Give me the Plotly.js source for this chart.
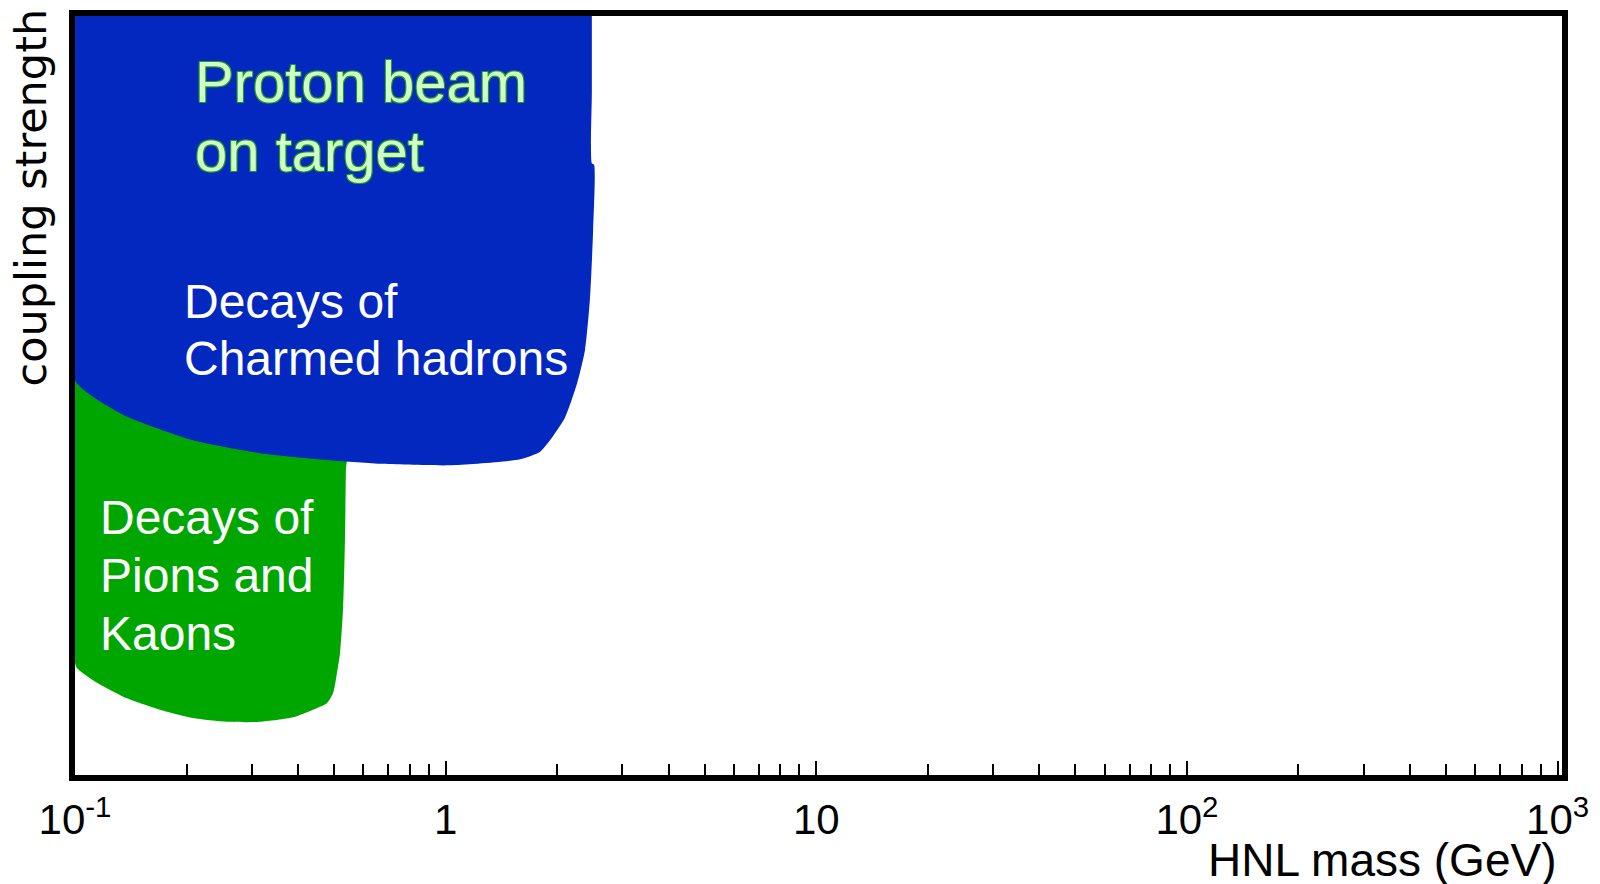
<!DOCTYPE html>
<html>
<head>
<meta charset="utf-8">
<script src="https://cdn.plot.ly/plotly-3.0.1.min.js"></script>
<style>html,body{margin:0;padding:0;background:#fff;}#chart{width:1600px;height:884px;}</style>
</head>
<body>
<div id="chart"></div>
<script>
// Region: "Proton beam on target / Decays of Charmed hadrons" (blue)
const charmMass = [0.1, 2.48, 2.48, 2.48, 2.48, 2.515, 2.50, 2.45, 2.377, 2.263, 2.100, 1.912, 1.798, 1.588, 1.028, 0.665, 0.479, 0.3155, 0.2082, 0.1381, 0.1098, 0.1, 0.1];
const charmCoupling = [108, 108, 100, 90, 80.6, 80.4, 71.8, 62.6, 56.0, 51.6, 47.1, 44.1, 42.6, 41.6, 40.8, 41.0, 41.5, 42.4, 44.1, 47.2, 50.1, 52.0, 108];

// Region: "Decays of Pions and Kaons" (green)
const mesonMass = [0.1, 0.538, 0.538, 0.535, 0.529, 0.519, 0.509, 0.497, 0.479, 0.4386, 0.3876, 0.3155, 0.257, 0.2082, 0.1696, 0.1381, 0.1118, 0.1012, 0.1, 0.1];
const mesonCoupling = [53, 42.2, 40.2, 31.0, 22.1, 16.1, 13.4, 10.8, 9.5, 8.6, 7.6, 7.0, 7.0, 7.5, 8.6, 10.1, 12.5, 14.1, 14.8, 53];

// Axis ticks
const majorTicks = [0.1, 1, 10, 100, 1000];
const majorTickLabels = ['10<sup>-1</sup>', '1', '10', '10<sup>2</sup>', '10<sup>3</sup>'];
const minorTicks = [0.2, 0.3, 0.4, 0.5, 0.6, 0.7, 0.8, 0.9,
                    2, 3, 4, 5, 6, 7, 8, 9,
                    20, 30, 40, 50, 60, 70, 80, 90,
                    200, 300, 400, 500, 600, 700, 800, 900];

// Labels
const beamLabel = ['Proton beam', 'on target'];
const charmLabel = ['Decays of', 'Charmed hadrons'];
const mesonLabel = ['Decays of', 'Pions and', 'Kaons'];
const xTitle = 'HNL mass (GeV)';
const yTitle = 'coupling strength';

const BLUE = 'rgb(2,40,192)';
const GREEN = 'rgb(0,166,0)';

const traces = [
  {x: mesonMass, y: mesonCoupling, type: 'scatter', mode: 'lines', fill: 'toself',
   fillcolor: GREEN, line: {width: 0, color: GREEN, shape: 'spline', smoothing: 0.6}, hoverinfo: 'skip'},
  {x: charmMass, y: charmCoupling, type: 'scatter', mode: 'lines', fill: 'toself',
   fillcolor: BLUE, line: {width: 0, color: BLUE, shape: 'spline', smoothing: 0.6}, hoverinfo: 'skip'}
];

const textFont = {family: 'Liberation Sans, Arial, sans-serif', color: '#ffffff', size: 48};
const beamFont = {family: 'Liberation Sans, Arial, sans-serif', color: '#d2ffc8', size: 58,
  shadow: '-1px -1px 0 #1d9e1d, 1px -1px 0 #1d9e1d, -1px 1px 0 #1d9e1d, 1px 1px 0 #1d9e1d'};

function lab(text, x, y, font) {
  return {text: text, x: x, y: y, xref: 'paper', yref: 'paper', xanchor: 'left', yanchor: 'middle',
          showarrow: false, font: font};
}

const annotations = [
  lab(beamLabel[0], 0.0794, 0.9140, beamFont),
  lab(beamLabel[1], 0.0794, 0.8225, beamFont),
  lab(charmLabel[0], 0.0722, 0.6238, textFont),
  lab(charmLabel[1], 0.0722, 0.5487, textFont),
  lab(mesonLabel[0], 0.0157, 0.3393, textFont),
  lab(mesonLabel[1], 0.0157, 0.2628, textFont),
  lab(mesonLabel[2], 0.0157, 0.1864, textFont),
  {text: xTitle, x: 0.9973, y: -0.1115, xref: 'paper', yref: 'paper', xanchor: 'right', yanchor: 'middle',
   showarrow: false, font: {family: 'Liberation Sans, Arial, sans-serif', size: 46, color: '#000'}},
  {text: yTitle, x: -0.0296, y: 0.7609, xref: 'paper', yref: 'paper', xanchor: 'center', yanchor: 'middle',
   textangle: -90, showarrow: false, font: {family: 'DejaVu Sans, sans-serif', size: 43, color: '#000'}}
];

const layout = {
  width: 1600, height: 884,
  margin: {l: 75, r: 38, t: 16, b: 109, pad: 0},
  paper_bgcolor: '#ffffff', plot_bgcolor: '#ffffff',
  showlegend: false,
  xaxis: {
    type: 'log', range: [-1, 3.012], showgrid: false, zeroline: false,
    showline: true, mirror: true, linewidth: 6, linecolor: '#000',
    ticks: 'inside', ticklen: 14, tickwidth: 2, tickcolor: '#000',
    tickmode: 'array', tickvals: majorTicks, ticktext: majorTickLabels,
    ticklabelstandoff: 3,
    tickfont: {family: 'Liberation Sans, Arial, sans-serif', size: 42, color: '#000'},
    minor: {tickmode: 'array', tickvals: minorTicks, ticks: 'inside', ticklen: 11, tickwidth: 2, tickcolor: '#000', showgrid: false},
    fixedrange: true
  },
  yaxis: {
    range: [0, 100], showgrid: false, zeroline: false, showticklabels: false, ticks: '',
    showline: true, mirror: true, linewidth: 6, linecolor: '#000', fixedrange: true
  },
  annotations: annotations
};

Plotly.newPlot('chart', traces, layout, {staticPlot: true, displayModeBar: false});
</script>
</body>
</html>
